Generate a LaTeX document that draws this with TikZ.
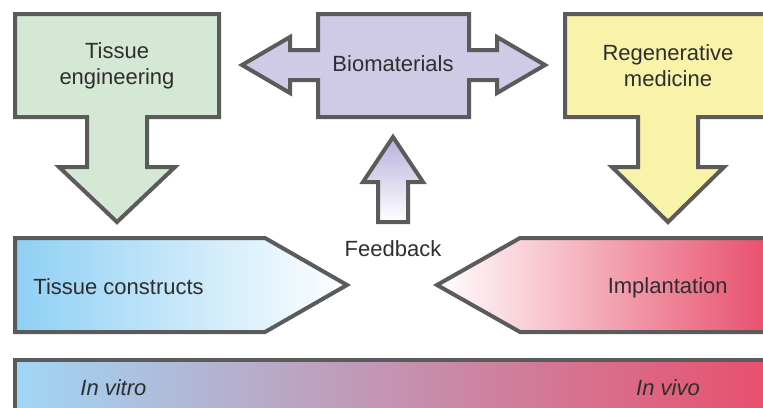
\documentclass[tikz,border=0pt]{standalone}
\usepackage{fontspec}
\setmainfont{Liberation Sans}
\usetikzlibrary{calc}

\definecolor{edgegray}{HTML}{5B5B5B}
\definecolor{textgray}{HTML}{2E2E2E}
\definecolor{tegreen}{HTML}{D5E8D5}
\definecolor{bmlilac}{HTML}{CFCBE7}
\definecolor{rmyellow}{HTML}{F9F3A9}
\definecolor{vitroblue}{HTML}{8FD0F4}
\definecolor{vivored}{HTML}{E8506D}
\definecolor{fblilac}{HTML}{B8B0DC}
\definecolor{barmid}{HTML}{BCA3C6}

\begin{document}
\begin{tikzpicture}[x=0.5pt,y=-0.5pt,
	blockarrow/.style={draw=edgegray, line width=2pt, line join=miter},
	boxtext/.style={text=textgray, inner sep=0pt, align=center,
		font=\fontsize{11}{13}\selectfont}]

	% ---- canvas

	\useasboundingbox (0,0) rectangle (763,407);
	\clip (0,0) rectangle (763,407);

	% ---- parameters

	\def\boxtop{14}
	\def\boxbot{117}
	\def\headtop{167}
	\def\tipy{222}

	% ---- tissue engineering

	\draw[blockarrow, fill=tegreen]
		(15,\boxtop) -- (219,\boxtop) -- (219,\boxbot) -- (147,\boxbot)
		-- (147,\headtop) -- (175,\headtop) -- (117,\tipy) -- (59,\headtop)
		-- (87,\headtop) -- (87,\boxbot) -- (15,\boxbot) -- cycle;
	\node[boxtext] (te) at (117,66) {Tissue\\engineering};

	% ---- regenerative medicine

	\draw[blockarrow, fill=rmyellow]
		(565,\boxtop) -- (771,\boxtop) -- (771,\boxbot) -- (698,\boxbot)
		-- (698,\headtop) -- (724,\headtop) -- (668,\tipy) -- (612,\headtop)
		-- (638,\headtop) -- (638,\boxbot) -- (565,\boxbot) -- cycle;
	\node[boxtext] (rm) at (668,66) {Regenerative\\medicine};

	% ---- biomaterials

	\draw[blockarrow, fill=bmlilac]
		(318,\boxtop) -- (469,\boxtop) -- (469,50) -- (497,50) -- (497,37)
		-- (545,65) -- (497,93) -- (497,80) -- (469,80) -- (469,\boxbot)
		-- (318,\boxbot) -- (318,80) -- (290,80) -- (290,93) -- (242,65)
		-- (290,37) -- (290,50) -- (318,50) -- cycle;
	\node[boxtext] (bm) at (393,64) {Biomaterials};

	% ---- feedback

	\draw[blockarrow, top color=fblilac, bottom color=white]
		(393,137) -- (423,182) -- (408,182) -- (408,222) -- (378,222)
		-- (378,182) -- (363,182) -- cycle;
	\node[boxtext] (fb) at (393,249) {Feedback};

	% ---- tissue constructs and implantation

	\draw[blockarrow, left color=vitroblue, right color=white]
		(15,238) -- (265,238) -- (347,285) -- (265,332) -- (15,332) -- cycle;
	\node[boxtext, anchor=west] (tc) at (33,287) {Tissue constructs};

	\draw[blockarrow, left color=white, right color=vivored]
		(767,238) -- (520,238) -- (437,285) -- (520,332) -- (767,332) -- cycle;
	\node[boxtext, anchor=east] (im) at (728,288) {Implantation};

	% ---- in vitro / in vivo bar

	\draw[blockarrow, left color=vitroblue!85!white, middle color=barmid,
		right color=vivored] (15,360) rectangle (767,420);
	\node[boxtext, anchor=west] (vitro) at (80,388) {\itshape In vitro};
	\node[boxtext] (vivo) at (668,388) {\itshape In vivo};

\end{tikzpicture}
\end{document}
